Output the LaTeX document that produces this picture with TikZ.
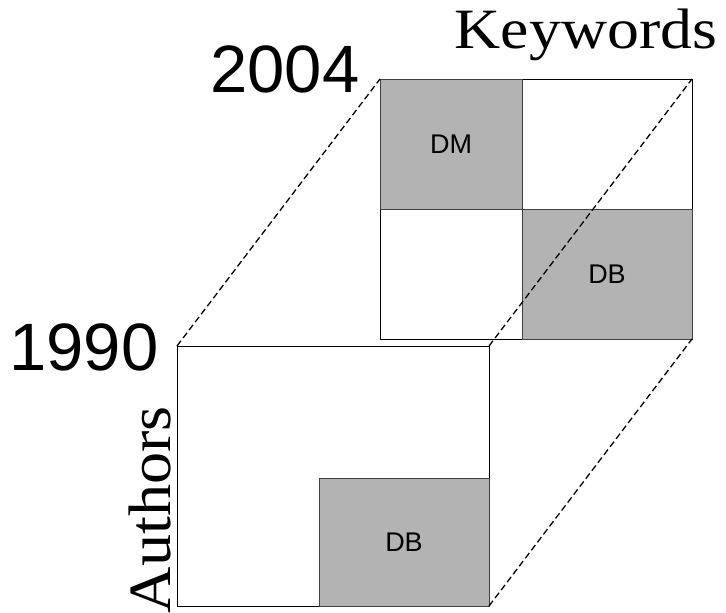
\documentclass[tikz,border=0pt]{standalone}
\usepackage{fontspec}
\usepackage{graphicx}
\setmainfont{Liberation Serif}
\newfontfamily\arialf{Liberation Sans}
\definecolor{cellgray}{HTML}{B3B3B3}
\tikzset{
  sqbox/.style={draw=black, line width=0.9pt, fill=white, inner sep=0pt, outer sep=0pt, minimum width=312pt, minimum height=260pt},
  graycell/.style={draw=black!75, line width=0.9pt, fill=cellgray, inner sep=0pt, outer sep=0pt, font=\arialf\fontsize{27}{30}\selectfont},
  linkline/.style={draw=black, line width=1.3pt, dash pattern=on 6.5pt off 3.5pt},
  yearlabel/.style={font=\arialf\fontsize{67}{70}\selectfont, inner sep=0pt, anchor=base},
  axislabel/.style={inner sep=0pt}
}
\begin{document}
\begin{tikzpicture}[x=1pt,y=-1pt]
\useasboundingbox[fill=white] (0,0) rectangle (726,613);
% back square (2004)
\node[sqbox] (back) at (536,209) {};
\node[graycell, minimum width=142pt, minimum height=130pt] (dm) at (451,144) {DM};
\node[graycell, minimum width=170pt, minimum height=130pt] (dbback) at (607,274) {DB};
% front square (1990)
\node[sqbox] (front) at (333,476) {};
\node[graycell, minimum width=170pt, minimum height=128pt] (dbfront) at (404,542) {DB};
% connecting dashed lines
\draw[linkline] (front.north west) -- (back.north west);
\draw[linkline] (front.north east) -- (back.north east);
\draw[linkline] (front.south east) -- (back.south east);
% labels
\node[yearlabel] (y2004) at (285,92) {2004};
\node[yearlabel] (y1990) at (84,370) {1990};
\node[axislabel, anchor=base] (kw) at (586,48) {\scalebox{1.12}[1]{\fontsize{57}{61}\selectfont Keywords}};
\node[axislabel, anchor=base east, rotate=90] (au) at (170,406) {\scalebox{1.07}[1]{\fontsize{60}{64}\selectfont Authors}};
\end{tikzpicture}
\end{document}
